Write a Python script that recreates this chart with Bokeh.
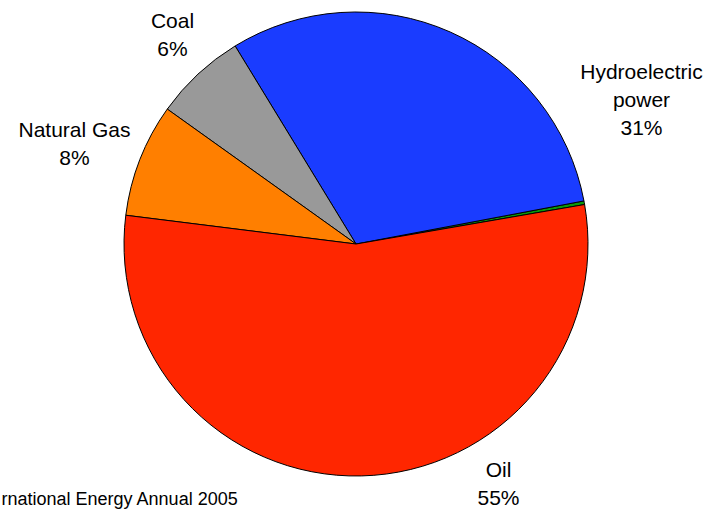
import numpy as np
from bokeh.plotting import figure
from bokeh.models import Range1d, ColumnDataSource
from bokeh.core.properties import value
from bokeh.embed import file_html
from bokeh.resources import INLINE

# data (anticlockwise order starting at the Oil/Other boundary)
categories = ["Other", "Hydroelectric power", "Coal", "Natural Gas", "Oil"]
shares = [0.25, 30.75, 6.4, 7.9, 54.7]
colors = ["#0a9a0a", "#1a3cff", "#999999", "#ff7f00", "#ff2600"]
label_lines = {
    "Coal": ["Coal"],
    "Natural Gas": ["Natural Gas"],
    "Hydroelectric power": ["Hydroelectric", "power"],
    "Oil": ["Oil"],
}
source_note = "rnational Energy Annual 2005"

W, H = 710, 512
p = figure(width=W, height=H, output_backend="svg", toolbar_location=None,
           x_range=Range1d(0, W), y_range=Range1d(0, H), min_border=0,
           background_fill_color="white", border_fill_color="white")
p.axis.visible = False
p.grid.visible = False
p.outline_line_color = None

def sx(x):  # picture x -> data x
    return x

def sy(y):  # picture y -> data y
    return H - y

cx, cy, r = sx(355.5), sy(243.5), 232
start0 = np.deg2rad(9.8)
frac = np.array(shares) / sum(shares)
ends = start0 + np.cumsum(frac) * 2 * np.pi
starts = np.concatenate([[start0], ends[:-1]])

src = ColumnDataSource(dict(start=starts, end=ends, color=colors, cat=categories))
p.wedge(x=cx, y=cy, radius=r, start_angle="start", end_angle="end",
        fill_color="color", line_color="black", line_width=1, source=src)

# label anchors (picture coords, centre of first line)
anchors = {
    "Coal": (172, 20),
    "Natural Gas": (74, 129),
    "Hydroelectric power": (641, 71),
    "Oil": (498, 469),
}
lx, ly, lt = [], [], []
for cat, s in zip(categories, shares):
    if cat not in anchors:
        continue
    ax, ay = anchors[cat]
    lines = label_lines[cat] + [f"{round(s)}%"]
    for i, t in enumerate(lines):
        lx.append(sx(ax))
        ly.append(sy(ay + i * 28))
        lt.append(t)

p.text(x=lx, y=ly, text=lt, text_align="center", text_baseline="middle",
       text_font=value("Liberation Sans"), text_font_size="21px", text_color="black")

p.text(x=[sx(1)], y=[sy(498)], text=[source_note], text_align="left",
       text_baseline="middle", text_font=value("Liberation Sans"),
       text_font_size="18px", text_color="black")

open("out.html", "w").write(file_html(p, INLINE))
